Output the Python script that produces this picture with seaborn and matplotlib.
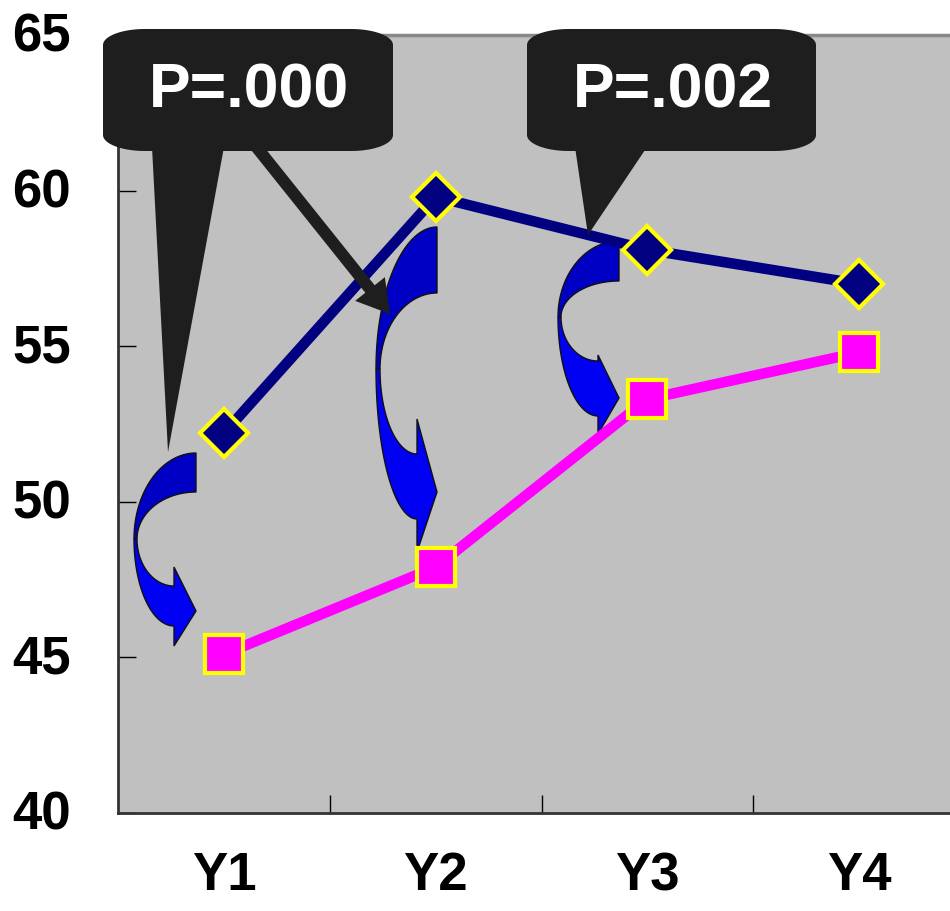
import numpy as np
import pandas as pd
import matplotlib
matplotlib.use("Agg")
import matplotlib.pyplot as plt
import matplotlib.transforms as mtransforms
from matplotlib.patches import Polygon
import seaborn as sns

# ---- data -------------------------------------------------------------
years = ["Y1", "Y2", "Y3", "Y4"]
group_a = [52.2, 59.8, 58.1, 57.0]   # navy diamonds
group_b = [45.1, 47.9, 53.3, 54.8]   # magenta squares
y_ticks = [40, 45, 50, 55, 60, 65]
p_labels = ["P=.000", "P=.002"]

# ---- style ------------------------------------------------------------
W, H = 950, 912
sns.set_style("ticks")
plt.rcParams["font.family"] = ["Liberation Sans", "DejaVu Sans"]
plt.rcParams["font.weight"] = "bold"
plt.rcParams["text.color"] = "black"
plt.rcParams["xtick.labelcolor"] = "black"
plt.rcParams["ytick.labelcolor"] = "black"

fig = plt.figure(figsize=(W / 100, H / 100), dpi=100)
ax = fig.add_axes([118 / W, 1 - 814 / H, 847 / W, 778 / H])
ax.set_facecolor("#c0c0c0")

df = pd.DataFrame({
    "year": years * 2,
    "score": group_a + group_b,
    "group": ["A"] * len(years) + ["B"] * len(years),
})

sns.lineplot(data=df[df["group"] == "A"], x="year", y="score", ax=ax,
             color="#000080", linewidth=7.6, marker="D", markersize=24.6,
             markerfacecolor="#000080", markeredgecolor="#ffff00",
             markeredgewidth=3, zorder=4)
sns.lineplot(data=df[df["group"] == "B"], x="year", y="score", ax=ax,
             color="#ff00ff", linewidth=7.6, marker="s", markersize=27,
             markerfacecolor="#ff00ff", markeredgecolor="#ffff00",
             markeredgewidth=3, zorder=4)

ax.set_xlim(-0.5, 3.5)
ax.set_ylim(40, 65)
ax.set_yticks(y_ticks)
ax.set_xticks(range(len(years)))
ax.set_xticklabels(years)
ax.set_xticks([0.5, 1.5, 2.5], minor=True)
ax.set_xlabel("")
ax.set_ylabel("")
ax.tick_params(axis="x", which="major", length=0, pad=27, labelsize=38,
               labelcolor="black")
ax.tick_params(axis="x", which="minor", direction="in", length=13,
               width=1, color="black")
ax.tick_params(axis="y", direction="in", length=13, width=1, color="black",
               pad=34, labelsize=38, labelcolor="black")
lift = mtransforms.ScaledTranslation(0, 0.04, fig.dpi_scale_trans)
for lab in ax.get_yticklabels():
    lab.set_transform(lab.get_transform() + lift)

for side in ["left", "bottom"]:
    ax.spines[side].set_color("#333333")
    ax.spines[side].set_linewidth(2)
ax.spines["top"].set_color("#888888")
ax.spines["top"].set_linewidth(2.5)

# ---- annotation shapes (pixel coordinates, origin top-left) ----------
px = mtransforms.Affine2D().scale(1 / W, -1 / H).translate(0, 1) + fig.transFigure


def add_shape(pts, zorder, **kw):
    p = Polygon(np.asarray(pts), closed=True, transform=px, zorder=zorder, **kw)
    ax.add_artist(p)
    p.set_clip_on(False)
    return p


def curved_arrow(a):
    t = np.linspace(0, np.pi / 2, 60)
    xr, ym, xb = a["xr"], a["ym"], a["xb"]
    outer = np.c_[xr - (xr - a["xlo"]) * np.sin(t), ym - (ym - a["yto"]) * np.cos(t)]
    inner = np.c_[xr - (xr - a["xli"]) * np.sin(t), ym - (ym - a["yti"]) * np.cos(t)][::-1]
    add_shape(np.vstack([outer, inner]), 3, facecolor="#0000c4",
              edgecolor="#111111", linewidth=1)
    lo_outer = np.c_[xb - (xb - a["xlo"]) * np.sin(t), ym + (a["ybo"] - ym) * np.cos(t)][::-1]
    head = np.array([(xb, a["bb"]), a["tip"], (xb, a["bt"])])
    lo_inner = np.c_[xb - (xb - a["xli"]) * np.sin(t), ym + (a["ybi"] - ym) * np.cos(t)]
    add_shape(np.vstack([lo_outer, head, lo_inner]), 3, facecolor="#0000f2",
              edgecolor="#111111", linewidth=1)


arrows = [
    dict(xr=196, yto=454, yti=493, xlo=134, xli=137, ym=540, xb=174,
         ybi=587, ybo=627, bt=568, bb=647, tip=(196, 612)),
    dict(xr=437, yto=228, yti=294, xlo=376, xli=380, ym=370, xb=417,
         ybi=455, ybo=520, bt=420, bb=553, tip=(437, 493)),
    dict(xr=619, yto=242, yti=282, xlo=558, xli=561, ym=318, xb=598,
         ybi=362, ybo=417, bt=356, bb=435, tip=(619, 399)),
]
for a in arrows:
    curved_arrow(a)


def rounded_box(x0, y0, x1, y1, rx, ry):
    t = np.linspace(0, np.pi / 2, 24)
    pts = []
    pts += list(zip(x0 + rx - rx * np.cos(t), y0 + ry - ry * np.sin(t)))
    pts += list(zip(x1 - rx + rx * np.sin(t), y0 + ry - ry * np.cos(t)))
    pts += list(zip(x1 - rx + rx * np.cos(t), y1 - ry + ry * np.sin(t)))
    pts += list(zip(x0 + rx - rx * np.sin(t), y1 - ry + ry * np.cos(t)))
    return pts


def block_arrow(start, tip, shaft_w, head_w, head_len):
    start, tip = np.array(start, float), np.array(tip, float)
    d = tip - start
    u = d / np.hypot(*d)
    n = np.array([-u[1], u[0]])
    base = tip - u * head_len
    return [start + n * shaft_w / 2, base + n * shaft_w / 2, base + n * head_w / 2,
            tip, base - n * head_w / 2, base - n * shaft_w / 2,
            start - n * shaft_w / 2]


dark = "#1e1e1e"
boxes = [(103, 30, 393, 152), (527, 30, 816, 152)]
tails = [[(152, 148), (224, 148), (168, 453)],
         [(575, 148), (647, 148), (588, 236)]]
for (x0, y0, x1, y1), tail, label in zip(boxes, tails, p_labels):
    add_shape(rounded_box(x0, y0, x1, y1, 42, 16), 6, facecolor=dark,
              edgecolor="none")
    add_shape(tail, 6, facecolor=dark, edgecolor="none")
    ax.text((x0 + x1) / 2 + 1, 107, label, transform=px, ha="center",
            va="baseline", color="white", fontsize=45, fontweight="bold",
            zorder=7, clip_on=False)

add_shape(block_arrow((250, 140), (390, 315), 12, 38, 32), 6,
          facecolor=dark, edgecolor="none")

fig.savefig("out.png", dpi=100, facecolor="white")
